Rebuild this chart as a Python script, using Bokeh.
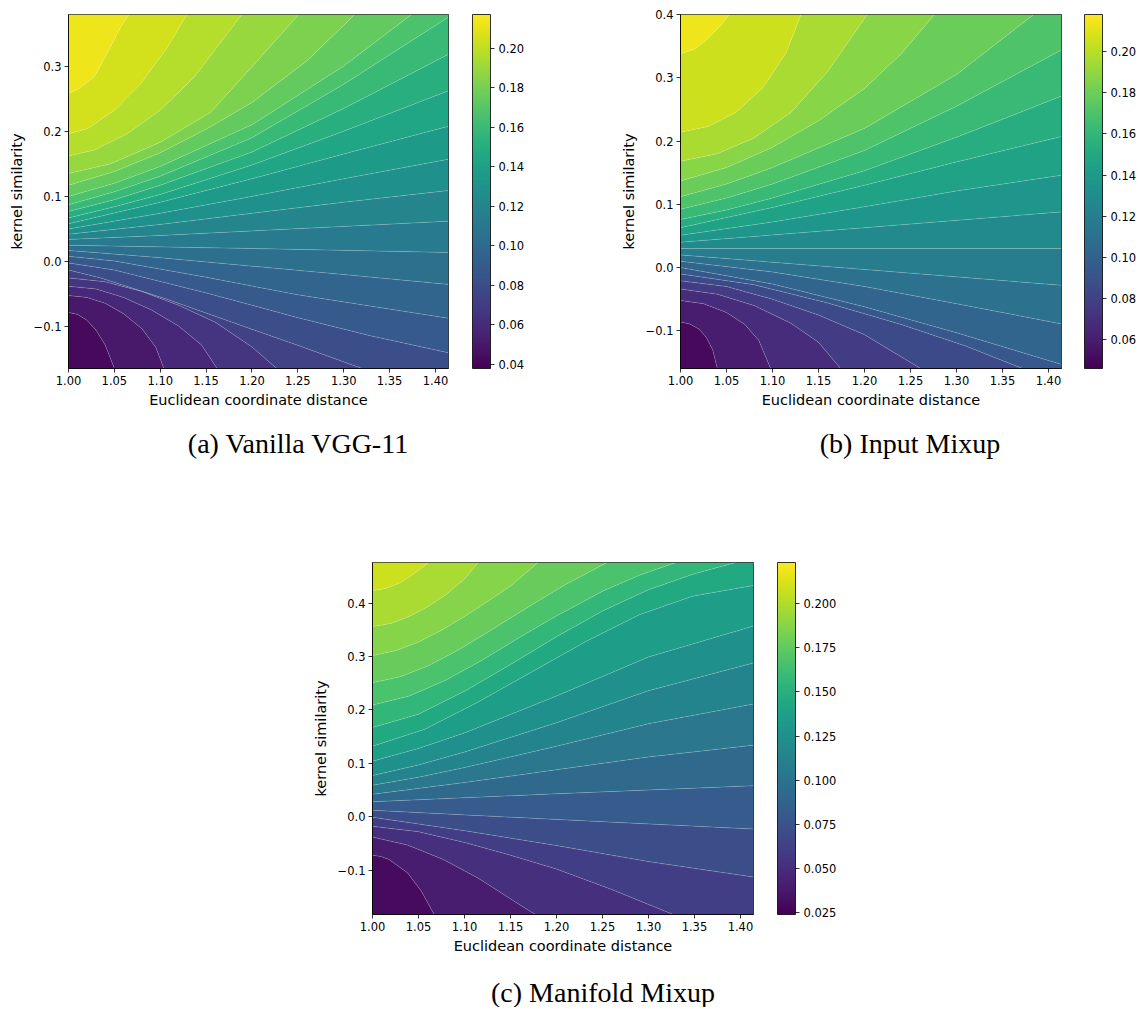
from bokeh.plotting import figure
from bokeh.models import (Range1d, FixedTicker, PrintfTickFormatter, CustomJSTickFormatter,
                          ColorBar, LinearColorMapper, Div)
from bokeh.layouts import column, row
from bokeh.palettes import Viridis256
from bokeh.embed import file_html
from bokeh.resources import INLINE

# ---------------- data ----------------
X_RANGE = (1.0, 1.41421)
X_TICKS = [1.00, 1.05, 1.10, 1.15, 1.20, 1.25, 1.30, 1.35, 1.40]

# (a) Vanilla VGG-11
A_Y_RANGE = (-0.164, 0.379)
A_Z_RANGE = (0.038, 0.217)          # colour-bar range
A_FIELD_RANGE = (0.038, 0.217)      # lowest / highest value inside the panel
A_Y_TICKS = [-0.1, 0.0, 0.1, 0.2, 0.3]
A_CB_TICKS = [0.04, 0.06, 0.08, 0.10, 0.12, 0.14, 0.16, 0.18, 0.20]
A_LEVELS = [0.0458, 0.0536, 0.0613, 0.0691, 0.0769, 0.0847, 0.0925, 0.1002, 0.1080,
            0.1158, 0.1236, 0.1314, 0.1391, 0.1469, 0.1547, 0.1625, 0.1703, 0.1780,
            0.1858, 0.1936, 0.2014, 0.2092]
A_LINES_X = [
    [1.000, 1.010, 1.020, 1.030, 1.040, 1.050],
    [1.000, 1.020, 1.040, 1.060, 1.080, 1.095, 1.104],
    [1.000, 1.030, 1.060, 1.090, 1.120, 1.145, 1.162],
    [1.000, 1.040, 1.080, 1.120, 1.160, 1.200, 1.227],
    [1.000, 1.035, 1.108, 1.180, 1.253, 1.320],
    [1.000, 1.050, 1.150, 1.250, 1.330, 1.4142],
    [1.000, 1.050, 1.150, 1.250, 1.4142],
    [1.000, 1.100, 1.200, 1.300, 1.4142],
    [1.000, 1.200, 1.4142],
    [1.000, 1.100, 1.200, 1.300, 1.4142],
    [1.000, 1.100, 1.200, 1.300, 1.4142],
    [1.000, 1.100, 1.200, 1.300, 1.4142],
    [1.000, 1.100, 1.200, 1.300, 1.4142],
    [1.000, 1.050, 1.100, 1.200, 1.300, 1.4142],
    [1.000, 1.050, 1.100, 1.200, 1.300, 1.4142],
    [1.000, 1.050, 1.100, 1.200, 1.300, 1.4142],
    [1.000, 1.050, 1.100, 1.200, 1.300, 1.374],
    [1.000, 1.050, 1.100, 1.150, 1.200, 1.260, 1.312],
    [1.000, 1.046, 1.100, 1.155, 1.200, 1.251],
    [1.000, 1.028, 1.064, 1.100, 1.137, 1.189],
    [1.000, 1.021, 1.050, 1.079, 1.108, 1.129],
    [1.000, 1.011, 1.028, 1.042, 1.057, 1.066],
]
A_LINES_Y = [
    [-0.078, -0.081, -0.090, -0.105, -0.128, -0.164],
    [-0.052, -0.055, -0.064, -0.080, -0.103, -0.131, -0.164],
    [-0.038, -0.042, -0.055, -0.074, -0.099, -0.128, -0.164],
    [-0.025, -0.031, -0.046, -0.067, -0.093, -0.131, -0.164],
    [-0.013, -0.025, -0.058, -0.094, -0.130, -0.164],
    [-0.002, -0.013, -0.048, -0.086, -0.114, -0.140],
    [0.008, 0.001, -0.024, -0.051, -0.087],
    [0.017, 0.006, -0.007, -0.020, -0.035],
    [0.025, 0.020, 0.014],
    [0.034, 0.040, 0.047, 0.054, 0.062],
    [0.042, 0.057, 0.074, 0.091, 0.109],
    [0.050, 0.074, 0.100, 0.127, 0.157],
    [0.058, 0.091, 0.127, 0.165, 0.2075],
    [0.067, 0.084, 0.103, 0.148, 0.200, 0.262],
    [0.077, 0.095, 0.117, 0.168, 0.235, 0.318],
    [0.087, 0.107, 0.131, 0.190, 0.272, 0.375],
    [0.100, 0.120, 0.146, 0.210, 0.300, 0.379],
    [0.117, 0.138, 0.167, 0.203, 0.244, 0.308, 0.379],
    [0.135, 0.150, 0.183, 0.229, 0.299, 0.379],
    [0.162, 0.171, 0.196, 0.232, 0.283, 0.379],
    [0.196, 0.204, 0.232, 0.273, 0.329, 0.379],
    [0.258, 0.265, 0.283, 0.319, 0.360, 0.379],
]

# (b) Input Mixup
B_Y_RANGE = (-0.1595, 0.400)
B_Z_RANGE = (0.046, 0.218)
B_FIELD_RANGE = (0.046, 0.218)
B_Y_TICKS = [-0.1, 0.0, 0.1, 0.2, 0.3, 0.4]
B_CB_TICKS = [0.06, 0.08, 0.10, 0.12, 0.14, 0.16, 0.18, 0.20]
B_LEVELS = [0.0546, 0.0632, 0.0718, 0.0804, 0.0890, 0.0976, 0.1062, 0.1148, 0.1234,
            0.1320, 0.1406, 0.1492, 0.1578, 0.1664, 0.1750, 0.1836, 0.1922, 0.2008, 0.2094]
B_LINES_X = [
    [1.000, 1.010, 1.020, 1.028, 1.035, 1.040],
    [1.000, 1.025, 1.050, 1.070, 1.085, 1.098],
    [1.000, 1.040, 1.080, 1.120, 1.150, 1.174],
    [1.000, 1.050, 1.100, 1.150, 1.200, 1.261],
    [1.000, 1.080, 1.160, 1.240, 1.310, 1.372],
    [1.000, 1.100, 1.200, 1.300, 1.4142],
    [1.000, 1.100, 1.200, 1.300, 1.4142],
    [1.000, 1.200, 1.4142],
    [1.000, 1.200, 1.4142],
    [1.000, 1.200, 1.4142],
    [1.000, 1.100, 1.200, 1.300, 1.4142],
    [1.000, 1.100, 1.200, 1.300, 1.4142],
    [1.000, 1.050, 1.100, 1.200, 1.300, 1.4142],
    [1.000, 1.050, 1.100, 1.200, 1.300, 1.4142],
    [1.000, 1.050, 1.100, 1.200, 1.300, 1.384],
    [1.000, 1.050, 1.100, 1.150, 1.200, 1.240, 1.276],
    [1.000, 1.040, 1.080, 1.120, 1.160, 1.203],
    [1.000, 1.030, 1.060, 1.090, 1.115, 1.131],
    [1.000, 1.015, 1.030, 1.045, 1.053],
]
B_LINES_Y = [
    [-0.086, -0.089, -0.097, -0.110, -0.130, -0.1595],
    [-0.052, -0.057, -0.071, -0.090, -0.115, -0.1595],
    [-0.034, -0.042, -0.060, -0.088, -0.118, -0.1595],
    [-0.021, -0.030, -0.050, -0.075, -0.106, -0.1595],
    [-0.010, -0.027, -0.056, -0.090, -0.124, -0.1595],
    [0.000, -0.026, -0.062, -0.103, -0.153],
    [0.010, -0.007, -0.030, -0.057, -0.089],
    [0.020, -0.003, -0.028],
    [0.030, 0.030, 0.030],
    [0.040, 0.063, 0.088],
    [0.051, 0.072, 0.096, 0.121, 0.146],
    [0.063, 0.095, 0.130, 0.167, 0.207],
    [0.076, 0.091, 0.110, 0.153, 0.206, 0.271],
    [0.092, 0.110, 0.132, 0.185, 0.255, 0.344],
    [0.112, 0.132, 0.158, 0.220, 0.305, 0.400],
    [0.137, 0.158, 0.190, 0.232, 0.283, 0.338, 0.400],
    [0.168, 0.180, 0.205, 0.245, 0.310, 0.400],
    [0.214, 0.223, 0.245, 0.285, 0.340, 0.400],
    [0.338, 0.345, 0.362, 0.385, 0.400],
]

# (c) Manifold Mixup
C_Y_RANGE = (-0.183, 0.476)
C_Z_RANGE = (0.0237, 0.2235)
C_FIELD_RANGE = (0.0237, 0.2143)
C_Y_TICKS = [-0.1, 0.0, 0.1, 0.2, 0.3, 0.4]
C_CB_TICKS = [0.025, 0.050, 0.075, 0.100, 0.125, 0.150, 0.175, 0.200]
C_LEVELS = [0.0343, 0.0449, 0.0555, 0.0661, 0.0767, 0.0873, 0.0978, 0.1084, 0.1190,
            0.1296, 0.1402, 0.1508, 0.1614, 0.1720, 0.1825, 0.1931, 0.2037]
C_LINES_X = [
    [1.000, 1.009, 1.018, 1.038, 1.053, 1.067],
    [1.000, 1.038, 1.077, 1.115, 1.154, 1.177],
    [1.000, 1.050, 1.100, 1.150, 1.200, 1.260, 1.327],
    [1.000, 1.100, 1.200, 1.300, 1.4142],
    [1.000, 1.200, 1.4142],
    [1.000, 1.200, 1.4142],
    [1.000, 1.100, 1.200, 1.300, 1.4142],
    [1.000, 1.050, 1.100, 1.200, 1.300, 1.4142],
    [1.000, 1.050, 1.100, 1.200, 1.300, 1.4142],
    [1.000, 1.050, 1.100, 1.200, 1.300, 1.4142],
    [1.000, 1.057, 1.115, 1.174, 1.232, 1.290, 1.348, 1.4142],
    [1.000, 1.050, 1.100, 1.150, 1.200, 1.250, 1.300, 1.350, 1.395],
    [1.000, 1.040, 1.080, 1.120, 1.160, 1.200, 1.250, 1.290, 1.330],
    [1.000, 1.030, 1.060, 1.090, 1.120, 1.150, 1.180, 1.210, 1.255],
    [1.000, 1.025, 1.050, 1.075, 1.100, 1.125, 1.150, 1.180],
    [1.000, 1.020, 1.040, 1.060, 1.080, 1.100, 1.115],
    [1.000, 1.015, 1.030, 1.045, 1.061],
]
C_LINES_Y = [
    [-0.072, -0.0745, -0.080, -0.105, -0.139, -0.183],
    [-0.038, -0.053, -0.080, -0.115, -0.158, -0.183],
    [-0.018, -0.028, -0.048, -0.072, -0.098, -0.136, -0.183],
    [-0.001, -0.026, -0.054, -0.084, -0.113],
    [0.012, -0.005, -0.023],
    [0.028, 0.043, 0.058],
    [0.042, 0.064, 0.088, 0.112, 0.134],
    [0.059, 0.074, 0.092, 0.132, 0.174, 0.211],
    [0.077, 0.097, 0.121, 0.176, 0.236, 0.288],
    [0.104, 0.128, 0.157, 0.226, 0.299, 0.357],
    [0.132, 0.164, 0.215, 0.272, 0.328, 0.378, 0.413, 0.433],
    [0.167, 0.192, 0.235, 0.285, 0.337, 0.385, 0.425, 0.455, 0.476],
    [0.209, 0.226, 0.256, 0.294, 0.336, 0.376, 0.422, 0.452, 0.476],
    [0.251, 0.262, 0.282, 0.309, 0.340, 0.372, 0.404, 0.435, 0.476],
    [0.302, 0.311, 0.327, 0.349, 0.375, 0.403, 0.432, 0.476],
    [0.356, 0.362, 0.375, 0.393, 0.416, 0.445, 0.476],
    [0.423, 0.428, 0.438, 0.455, 0.476],
]

CAPTIONS = ["(a) Vanilla VGG-11", "(b) Input Mixup", "(c) Manifold Mixup"]
X_LABEL = "Euclidean coordinate distance"
Y_LABEL = "kernel similarity"


# ---------------- helpers ----------------
def band_polys(lines_x, lines_y, xr, yr):
    x0, x1 = xr
    y0, y1 = yr
    W, H = x1 - x0, y1 - y0

    def s_of(x, y):
        d = [abs(y - y0) / H, abs(x - x1) / W, abs(y - y1) / H, abs(x - x0) / W]
        e = d.index(min(d))
        if e == 0:
            return (x - x0) / W
        if e == 1:
            return 1 + (y - y0) / H
        if e == 2:
            return 2 + (x1 - x) / W
        return 3 + (y1 - y) / H

    corners = [(1.0, x1, y0), (2.0, x1, y1), (3.0, x0, y1), (4.0, x0, y0)]

    def walk(sa, sb):
        return [(cx, cy) for s, cx, cy in corners if sa < s < sb]

    curves = [dict(pts=[(x0, y0)], s0=4.0, s1=0.0)]
    for xs, ys in zip(lines_x, lines_y):
        pts = list(zip(xs, ys))
        curves.append(dict(pts=pts, s0=s_of(*pts[0]), s1=s_of(*pts[-1])))
    curves.append(dict(pts=[(x0, y1)], s0=3.0, s1=3.0))
    polys = []
    for A, B in zip(curves[:-1], curves[1:]):
        pts = A["pts"] + walk(A["s1"], B["s1"]) + B["pts"][::-1] + walk(B["s0"], A["s0"])
        polys.append(([p[0] for p in pts], [p[1] for p in pts]))
    return polys


def band_colors(levels, field, zr):
    b = [field[0]] + list(levels) + [field[1]]
    out = []
    for lo, hi in zip(b[:-1], b[1:]):
        t = ((lo + hi) / 2 - zr[0]) / (zr[1] - zr[0])
        t = min(max(t, 0.0), 1.0)
        out.append(Viridis256[int(round(t * 255))])
    return out


FONT = "DejaVu Sans"


def make_panel(width, height, borders, frame_h, gap, yr, zr, field, levels, lx, ly,
               yticks, cbticks, cbfmt):
    bl, br, bt, bb = borders
    p = figure(width=width, height=height, x_range=Range1d(*X_RANGE), y_range=Range1d(*yr),
               output_backend="svg", toolbar_location=None,
               min_border_left=bl, min_border_right=br, min_border_top=bt, min_border_bottom=bb)
    polys = band_polys(lx, ly, X_RANGE, yr)
    p.patches(xs=[q[0] for q in polys], ys=[q[1] for q in polys],
              fill_color=band_colors(levels, field, zr), line_color=None)
    p.multi_line(xs=lx, ys=ly, line_color="white", line_alpha=0.35, line_width=0.5)

    p.grid.visible = False
    p.outline_line_color = "black"
    p.outline_line_width = 0.8
    p.xaxis.ticker = FixedTicker(ticks=X_TICKS)
    p.xaxis.formatter = PrintfTickFormatter(format="%.2f")
    p.yaxis.ticker = FixedTicker(ticks=yticks)
    p.yaxis.formatter = CustomJSTickFormatter(
        code="return (tick < -1e-9 ? '\u2212' : '') + Math.abs(tick).toFixed(1);")
    p.xaxis.axis_label = X_LABEL
    p.yaxis.axis_label = Y_LABEL
    for ax in (p.xaxis[0], p.yaxis[0]):
        ax.axis_line_color = "black"
        ax.axis_line_width = 0.8
        ax.major_tick_in = 0
        ax.major_tick_out = 4
        ax.major_tick_line_width = 0.8
        ax.minor_tick_line_color = None
        ax.major_label_text_font = FONT
        ax.major_label_text_font_size = "11.5px"
        ax.major_label_text_color = "black"
        ax.axis_label_text_font = FONT
        ax.axis_label_text_font_size = "14.5px"
        ax.axis_label_text_font_style = "normal"
        ax.axis_label_text_color = "black"
        ax.major_label_standoff = 3
    p.xaxis.axis_label_standoff = 4
    p.yaxis.axis_label_standoff = 6

    mapper = LinearColorMapper(palette=Viridis256, low=zr[0], high=zr[1])
    # invisible spacer bar: keeps the visible colour bar away from the frame
    spacer = ColorBar(color_mapper=mapper, ticker=FixedTicker(ticks=[]),
                      width=gap, height=frame_h, padding=0, margin=0, scale_alpha=0,
                      bar_line_color=None, border_line_color=None, background_fill_alpha=0,
                      major_tick_in=0, major_tick_out=0, major_tick_line_color=None,
                      minor_tick_line_color=None, label_standoff=0,
                      major_label_text_alpha=0)
    cb = ColorBar(color_mapper=mapper, ticker=FixedTicker(ticks=cbticks),
                  formatter=PrintfTickFormatter(format=cbfmt),
                  width=18, height=frame_h, padding=0, margin=0,
                  major_tick_in=0, major_tick_out=4, major_tick_line_color="black",
                  major_tick_line_width=0.8, minor_tick_line_color=None,
                  bar_line_color="black", bar_line_width=0.8,
                  major_label_text_font=FONT, major_label_text_font_size="11.5px",
                  major_label_text_color="black",
                  label_standoff=4, background_fill_alpha=0, border_line_color=None)
    p.add_layout(spacer, "right")
    p.add_layout(cb, "right")
    return p


def caption(text, width, height, line_h, pad_left):
    html = ('<div style="width:%dpx;box-sizing:border-box;font-family:\'Liberation Serif\',serif;'
            'font-size:28px;line-height:%dpx;text-align:center;padding-left:%dpx;'
            'white-space:nowrap;color:#000;">%s</div>' % (width, line_h, pad_left, text))
    return Div(text=html, width=width, height=height, margin=0,
               styles={"overflow": "hidden"})


pa = make_panel(571, 420, (68, 123, 14, 52), 354, 24, A_Y_RANGE, A_Z_RANGE, A_FIELD_RANGE,
                A_LEVELS, A_LINES_X, A_LINES_Y, A_Y_TICKS, A_CB_TICKS, "%.2f")
pb = make_panel(571, 420, (109, 81, 14, 52), 354, 23, B_Y_RANGE, B_Z_RANGE, B_FIELD_RANGE,
                B_LEVELS, B_LINES_X, B_LINES_Y, B_Y_TICKS, B_CB_TICKS, "%.2f")
pc = make_panel(853, 492, (372, 100, 94, 46), 352, 24, C_Y_RANGE, C_Z_RANGE, C_FIELD_RANGE,
                C_LEVELS, C_LINES_X, C_LINES_Y, C_Y_TICKS, C_CB_TICKS, "%.3f")

cap_a = caption(CAPTIONS[0], 571, 48, 48, 25)
cap_b = caption(CAPTIONS[1], 571, 48, 48, 107)
cap_c = caption(CAPTIONS[2], 1142, 47, 66, 64)

layout = column(row(pa, pb), row(cap_a, cap_b), pc, cap_c)

open("out.html", "w").write(file_html(layout, INLINE))
